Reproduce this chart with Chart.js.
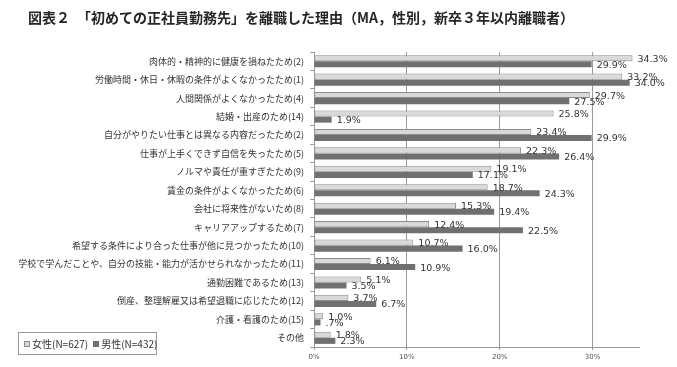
<!DOCTYPE html>
<html>
<head>
<meta charset="utf-8">
<script src="https://cdn.jsdelivr.net/npm/chart.js@4.4.1/dist/chart.umd.min.js"></script>
<style>
  body { margin: 0; background: #fff; }
  #wrap { position: relative; width: 677px; height: 367px; }
  #title {
    position: absolute; left: 28px; top: 7px;
    font-family: "Noto Sans CJK JP", sans-serif; font-size: 14px; font-weight: bold;
    color: #262626; white-space: pre;
  }
  #legend {
    position: absolute; left: 18px; top: 332px; width: 139px; height: 23px;
    border: 1px solid #9a9a9a; box-sizing: border-box;
    font-family: "Noto Sans CJK JP", sans-serif; font-size: 10px; color: #333;
    display: flex; align-items: center; padding-left: 5px; white-space: nowrap;
  }
  .sw { display: inline-block; width: 6px; height: 6px; margin-right: 2px; box-sizing: border-box; }
  .item { margin-right: 5px; display: flex; align-items: center; }
</style>
</head>
<body>
<div id="wrap">
  <canvas id="chart" width="677" height="367"></canvas>
  <div id="title">図表２　「初めての正社員勤務先」を離職した理由（MA，性別，新卒３年以内離職者）</div>
  <div id="legend">
    <span class="item"><span class="sw" style="background:#d9d9d9;border:1px solid #8c8c8c"></span>女性(N=627)</span>
    <span class="item"><span class="sw" style="background:#707070"></span>男性(N=432)</span>
  </div>
</div>
<script>
const reasons = [
  "肉体的・精神的に健康を損ねたため(2)",
  "労働時間・休日・休暇の条件がよくなかったため(1)",
  "人間関係がよくなかったため(4)",
  "結婚・出産のため(14)",
  "自分がやりたい仕事とは異なる内容だったため(2)",
  "仕事が上手くできず自信を失ったため(5)",
  "ノルマや責任が重すぎたため(9)",
  "賃金の条件がよくなかったため(6)",
  "会社に将来性がないため(8)",
  "キャリアアップするため(7)",
  "希望する条件により合った仕事が他に見つかったため(10)",
  "学校で学んだことや、自分の技能・能力が活かせられなかったため(11)",
  "通勤困難であるため(13)",
  "倒産、整理解雇又は希望退職に応じたため(12)",
  "介護・看護のため(15)",
  "その他"
];
const female = [34.3, 33.2, 29.7, 25.8, 23.4, 22.3, 19.1, 18.7, 15.3, 12.4, 10.7, 6.1, 5.1, 3.7, 1.0, 1.8];
const male = [29.9, 34.0, 27.5, 1.9, 29.9, 26.4, 17.1, 24.3, 19.4, 22.5, 16.0, 10.9, 3.5, 6.7, 0.7, 2.3];
const xTicks = [0, 10, 20, 30];

function pct(v) {
  let s = v.toFixed(1);
  if (s.startsWith("0")) s = s.slice(1);
  return s + "%";
}

// value labels next to each bar
const barLabels = {
  id: "barLabels",
  afterDatasetsDraw(chart) {
    let ctx = chart.ctx;
    ctx.save();
    ctx.font = "9.5px 'DejaVu Sans', sans-serif";
    ctx.fillStyle = "#333";
    ctx.textBaseline = "middle";
    chart.data.datasets.forEach((ds, i) => {
      let meta = chart.getDatasetMeta(i);
      meta.data.forEach((bar, j) => {
        ctx.fillText(pct(ds.data[j]), bar.x + 5, bar.y + 1);
      });
    });
    ctx.restore();
  }
};

new Chart(document.getElementById("chart"), {
  type: "bar",
  data: {
    labels: reasons,
    datasets: [
      {
        label: "女性(N=627)",
        data: female,
        backgroundColor: "#d9d9d9",
        borderColor: "#8c8c8c",
        borderWidth: 1,
        borderSkipped: false
      },
      {
        label: "男性(N=432)",
        data: male,
        backgroundColor: "#707070",
        borderWidth: 0
      }
    ]
  },
  options: {
    indexAxis: "y",
    responsive: false,
    animation: false,
    categoryPercentage: 0.66,
    barPercentage: 1,
    layout: { padding: { top: 52, right: 38, bottom: 0, left: 0 } },
    plugins: {
      legend: { display: false },
      tooltip: { enabled: false }
    },
    scales: {
      x: {
        min: 0,
        max: 35,
        afterBuildTicks: (scale) => {
          scale.ticks = xTicks.map((v) => ({ value: v }));
        },
        afterFit: (scale) => { scale.height = 20; },
        ticks: {
          callback: (v) => v + "%",
          font: { family: "DejaVu Sans", size: 7 },
          color: "#555",
          padding: 3,
          maxRotation: 0
        },
        grid: {
          color: (c) => (c.tick && c.tick.value === 0 ? "rgba(0,0,0,0)" : "#9a9a9a"),
          borderDash: [3, 3],
          tickLength: 3,
          tickColor: "#9a9a9a"
        },
        border: { color: "#9a9a9a", dash: [] }
      },
      y: {
        afterFit: (scale) => { scale.width = 314; },
        ticks: {
          font: { family: "Noto Sans CJK JP", size: 9 },
          color: "#333",
          padding: 6,
          autoSkip: false
        },
        grid: {
          drawOnChartArea: false,
          tickLength: 4,
          color: "#9a9a9a"
        },
        border: { color: "#9a9a9a" }
      }
    }
  },
  plugins: [barLabels]
});
</script>
</body>
</html>
